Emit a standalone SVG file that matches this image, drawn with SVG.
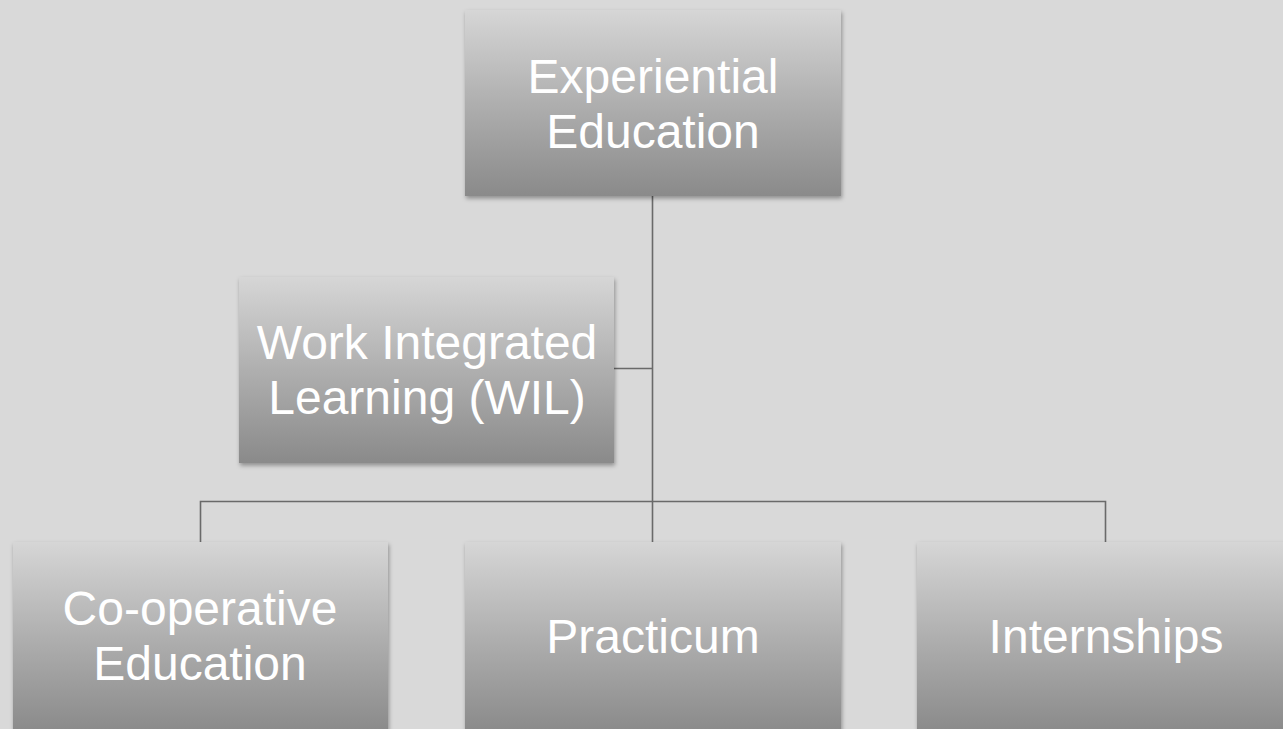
<svg xmlns="http://www.w3.org/2000/svg" width="1283" height="729" viewBox="0 0 1283 729">
<defs>
<linearGradient id="g" x1="0" y1="0" x2="0" y2="1">
<stop offset="0" stop-color="#d6d6d6"/>
<stop offset="0.5" stop-color="#afafaf"/>
<stop offset="1" stop-color="#8a8a8a"/>
</linearGradient>
<filter id="sh" x="-5%" y="-5%" width="110%" height="115%">
<feDropShadow dx="1" dy="2.5" stdDeviation="2" flood-color="#000" flood-opacity="0.35"/>
</filter>
</defs>
<style>
.box{fill:url(#g);filter:url(#sh)}
.t{font-family:"Liberation Sans",Arial,sans-serif;font-size:48px;fill:#ffffff;text-anchor:middle}
.c{stroke:#6a6a6a;stroke-width:1.6;fill:none}
</style>
<rect width="1283" height="729" fill="#d9d9d9"/>
<g id="connectors">
<path class="c" d="M652.5,196 V542"/>
<path class="c" d="M614,368.5 H652.5"/>
<path class="c" d="M200.5,542 V501.5 H1105.5 V542"/>
</g>
<g id="experiential">
<rect class="box" x="465" y="10" width="376" height="186"/>
<text class="t" x="653" y="93">Experiential</text>
<text class="t" x="653" y="148">Education</text>
</g>
<g id="wil">
<rect class="box" x="239" y="277" width="375" height="186"/>
<text class="t" x="427" y="359">Work Integrated</text>
<text class="t" x="427" y="414">Learning (WIL)</text>
</g>
<g id="coop">
<rect class="box" x="13" y="542" width="375" height="190"/>
<text class="t" x="200" y="625">Co-operative</text>
<text class="t" x="200" y="680">Education</text>
</g>
<g id="practicum">
<rect class="box" x="465" y="542" width="376" height="190"/>
<text class="t" x="653" y="653">Practicum</text>
</g>
<g id="internships">
<rect class="box" x="917" y="542" width="376" height="190"/>
<text class="t" x="1106" y="653">Internships</text>
</g>
</svg>
